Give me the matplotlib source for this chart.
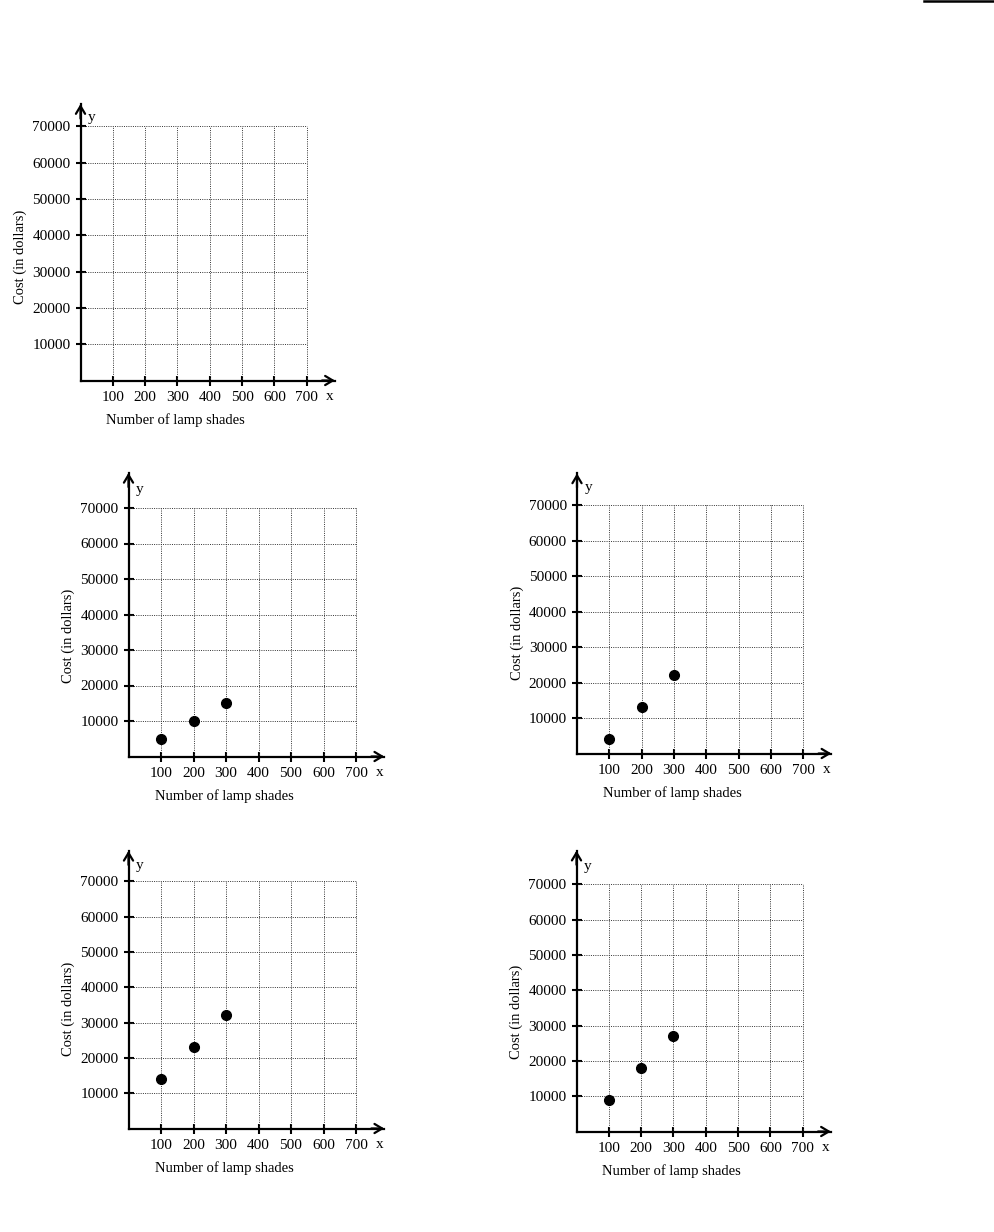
import matplotlib.pyplot as plt
from matplotlib.lines import Line2D

plt.rcParams['font.family'] = ['Liberation Serif', 'DejaVu Serif']
plt.rcParams['font.size'] = 11

W, H = 994, 1232

# data
x_ticks = [100, 200, 300, 400, 500, 600, 700]
y_ticks = [10000, 20000, 30000, 40000, 50000, 60000, 70000]
shades = [100, 200, 300]
cost_a = []
cost_b = [5000, 10000, 15000]
cost_c = [4000, 13000, 22000]
cost_d = [14000, 23000, 32000]
cost_e = [9000, 18000, 27000]

# panel layout in pixels: origin x, origin y, px per 100 shades, px per 10000 dollars, y axis top, y-letter level
panels = [
    (80.5, 380.5, 32.33, 36.33, 76100, 72300, cost_a),
    (128.5, 756.5, 32.5, 35.5, 79900, 75300, cost_b),
    (577, 753.5, 32.33, 35.5, 78900, 74800, cost_c),
    (128.5, 1128.5, 32.5, 35.33, 78600, 74500, cost_d),
    (576.5, 1131.5, 32.33, 35.33, 79500, 75000, cost_e),
]

fig = plt.figure(figsize=(W / 100, H / 100), dpi=100)

for ox, oy, sx, sy, ytop, yl, cost in panels:
    xmax = 787
    w = xmax / 100 * sx
    h = ytop / 10000 * sy
    ax = fig.add_axes([ox / W, 1 - oy / H, w / W, h / H])
    ax.set_xlim(0, xmax)
    ax.set_ylim(0, ytop)
    ax.patch.set_visible(False)
    for s in ['top', 'right']:
        ax.spines[s].set_visible(False)
    for s in ['left', 'bottom']:
        ax.spines[s].set_linewidth(1.6)

    # dotted grid, only up to 700 / 70000
    ax.vlines(x_ticks, 0, y_ticks[-1], colors='#333333', linestyles=(0, (1, 1.3)), lw=0.7)
    ax.hlines(y_ticks, 0, x_ticks[-1], colors='#333333', linestyles=(0, (1, 1.3)), lw=0.7)

    ax.set_xticks(x_ticks)
    ax.set_yticks(y_ticks)
    ax.set_xticklabels([str(v) for v in x_ticks])
    ax.set_yticklabels([str(v) for v in y_ticks])
    ax.tick_params(direction='inout', length=7.5, width=1.5, pad=3.5, labelsize=11)

    # arrow heads
    ax.annotate('', xy=(xmax, 0), xytext=(xmax - 40, 0),
                arrowprops=dict(arrowstyle='->,head_length=0.5,head_width=0.3', lw=1.6, color='black',
                                shrinkA=0, shrinkB=0), annotation_clip=False)
    ax.annotate('', xy=(0, ytop), xytext=(0, ytop - 4000),
                arrowprops=dict(arrowstyle='->,head_length=0.5,head_width=0.3', lw=1.6, color='black',
                                shrinkA=0, shrinkB=0), annotation_clip=False)

    ax.text(xmax - 15, -16 / sy * 10000, 'x', ha='center', va='center', fontsize=11)
    ax.text(35, yl, 'y', ha='center', va='center', fontsize=11)

    ax.text(295, -40 / sy * 10000, 'Number of lamp shades', ha='center', va='center', fontsize=10.5)
    ax.text(-60 / sx * 100, 34000, 'Cost (in dollars)', ha='center', va='center',
            rotation=90, fontsize=10.5)

    if cost:
        ax.plot(shades, cost, 'o', color='black', markersize=7, clip_on=False)

fig.add_artist(Line2D([924 / W, 1], [1 - 1.2 / H, 1 - 1.2 / H], color='black', lw=1.8))

fig.savefig('out.png', dpi=100)
